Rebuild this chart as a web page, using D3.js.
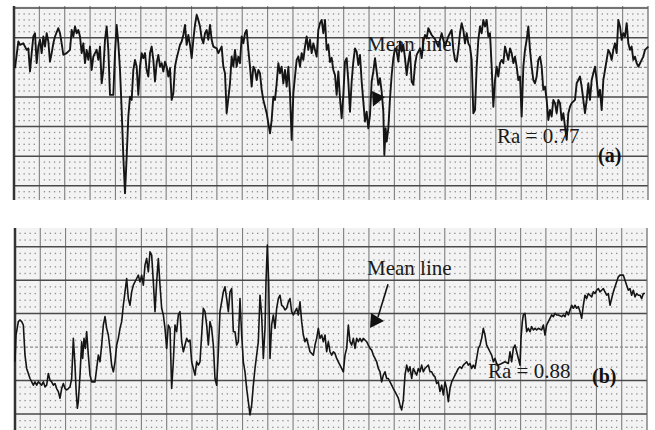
<!DOCTYPE html>
<html><head><meta charset="utf-8">
<script src="https://cdn.jsdelivr.net/npm/d3@7"></script>
<style>html,body{margin:0;padding:0;background:#fff;} svg{display:block;}</style>
</head><body><svg id="c" width="655" height="430"></svg>
<script>
// ---- DATA (profile traces: sample position, amplitude in grid divisions) ----
const topPos = [9,11,12,14,16,17,18,19,20,21,22,23,24,25,26,27,28,29,30,31,32,33,35,36,37,38,40,42,43,44,45,46,47,48,49,50,51,52,53,54,55,56,57,58,59,60,61,62,63,64,65,66,68,69,70,71,72,73,74,75,76,77,78,79,80,81,82,83,84,85,86,87,88,89,90,91,92,93,94,95,96,97,98,99,100,101,102,103,104,105,106,107,108,109,110,111,112,113,114,115,116,117,118,119,120,121,122,123,124,125,126,127,128,130,131,132,133,134,135,136,138,139,140,141,142,143,144,145,146,147,148,149,150,151,152,153,154,155,156,157,158,160,161,162,163,164,165,166,167,168,169,170,171,172,173,174,175,176,177,178,179,180,181,182,183,184,185,186,187,188,190,191,192,193,194,195,196,197,198,199,200,201,202,203,204,205,206,207,208,209,210,211,212,213,214,215,216,217,218,219,220,221,222,223,224,225,226,227,228,229,230,230.6,231.4,232,233,234,235,236,237,238,239,240,241,242,243,244,245,246,247,248,249,250,252,253,254,255,256,257,259,261,263,265,267,269,271,272,273,274,275,276,277,278,279,280,281,282,283,284,285,286,287,288,289,290,291,292,293,294,295,296,297,298,299,300,301,302,303,304,305,306,307,308,309,310,311,312,313,314,315,316,317,318,319,320,321,322,323,324,325,326,327,328,329,330,331,332,333,334,335,336,337,338,339,340,341,342,343,345,346,347,348,349,350,351,352,353,354,355,356,357,358,359,360,361,362,363,364,365,366,367,368,369,370,371,372,373,374,375,376,377,378,379,380,381,382,383,385,386,387,389];
const topVal = [0.97,1.87,1.76,1.81,1.59,1.64,0.86,1.48,2.04,2.15,1.14,1.70,1.93,1.48,2.04,1.70,2.15,1.87,1.19,1.48,1.81,2.04,2.32,2.15,1.81,1.42,1.48,1.59,2.26,2.04,2.38,2.15,2.26,2.04,1.48,1.81,1.14,1.59,1.25,1.70,0.91,1.36,1.48,1.59,1.25,1.70,0.46,0.91,1.93,2.38,1.59,0.07,0.07,1.48,2.43,1.81,0.91,-0.44,-2.02,-3.25,-2.02,-0.66,0.01,-0.10,0.91,1.25,1.02,0.07,1.02,1.48,1.31,1.48,0.91,0.69,1.48,1.70,1.25,0.52,1.14,1.42,1.02,1.14,0.86,1.19,1.02,0.69,0.97,-0.10,0.12,1.02,1.31,1.53,1.76,1.87,2.09,2.43,1.76,2.09,1.76,1.31,1.93,2.43,2.77,2.60,2.38,1.98,1.81,2.15,2.26,1.93,2.43,1.93,1.70,1.64,1.48,1.59,1.70,1.02,0.80,-0.55,0.46,1.36,1.02,1.59,1.02,1.36,1.14,2.04,1.81,2.15,2.26,1.59,1.02,0.35,1.02,0.91,0.57,0.91,0.80,0.24,-0.10,-0.55,-0.89,-1.23,-0.78,0.01,-0.10,0.46,1.14,0.80,1.02,0.46,0.91,0.35,1.02,0.12,-1.45,0.12,0.69,1.25,1.36,1.02,1.48,1.25,1.70,2.04,1.59,1.93,1.48,1.81,1.36,2.26,2.49,2.60,2.15,2.60,1.59,1.76,1.18,1.32,0.91,0.74,0.07,0.86,-0.05,-0.72,0.07,1.19,1.31,0.52,-0.50,0.52,1.19,1.64,1.53,1.08,1.42,0.52,-0.16,-0.83,-0.50,-1.06,-0.61,0.52,0.86,1.31,0.86,0.41,0.63,0.18,-0.50,-1.96,-1.06,-1.51,-1.06,-0.05,0.74,1.31,1.64,1.53,1.19,1.87,1.53,1.76,1.31,0.74,1.19,1.53,0.52,0.41,1.08,1.42,1.64,1.31,1.87,2.09,1.98,2.32,2.09,1.95,1.70,2.15,1.70,2.04,2.26,1.59,1.25,1.19,1.59,2.15,2.49,2.26,1.81,2.15,1.81,1.70,1.25,-0.55,-0.44,1.02,1.93,2.38,2.15,2.60,2.38,2.60,2.04,2.15,1.02,-0.33,0.57,1.02,0.69,1.14,1.25,1.14,1.70,1.48,1.25,1.64,1.48,1.14,1.36,1.02,0.57,0.69,-0.66,1.02,1.59,1.93,2.38,1.59,1.02,0.57,0.46,0.69,1.25,1.36,1.02,0.24,0.35,-0.10,-0.78,-0.44,-0.66,-0.10,-0.21,-0.55,-0.10,-0.21,-0.78,-0.55,-1.00,-1.45,-0.55,-0.33,-0.21,-0.10,0.46,0.57,0.69,0.35,-0.10,-0.55,-0.10,0.46,-0.10,0.57,0.80,1.02,0.57,0.01,0.24,-0.44,0.57,0.91,1.25,1.59,1.48,1.25,1.59,1.81,1.48,2.60,2.38,1.93,2.15,2.04,2.49,1.81,1.59,1.70,1.25,1.36,1.14,1.02,1.25,1.36,1.59,1.70];

const botPos = [9,9.6,11,12,13,14,15,16,18,20,21,22,23,24,25,26,27,28,29,30,31,32,33,34,35,36,37,38,39,40,41,42,43,44,45,45.6,46.4,47,48,48.6,49,49.6,50.4,51.2,52,53,54,55,57,58,59,60,61,62,63,64,65,66,67,68,69,70,71,72,73,74,75,76,77,78,79,80,82,83,84,85,86,87,88,89,90,91,92,93,94,95,96,97,98,99,100,101,102,103,104,105,106,107,108,109,110,111,112,113,114,115,116,117,118,119,120,121,122,123,124,125,126,127,128,129,130,131,132,133,134,135,136,137,138,139,140,141,142,143,144,145,146,147,148,149,150,151,152,153,154,155,156,157,158,159,159.6,160.4,161.2,162,163,164,165,166,167,168,169,170,171,172,173,174,175,176,177,178,179,180,181,182,183,184,185,186,188,189,190,191,192,193,194,195,196,197,198,199,200,201,202,203,204,206,207,208,209,210,211,212,213,214,215,216,217,218,219,220,221,222,223,224,225,226,227,228,229,230,231,232,233,234,235,236,237,238,239,240,241,242,243,244,245,246,247,248,249,250,251,252,253,254,255,256,257,258,259,260,261,262,263,264,265,266,267,268,269,270,271,272,273,274,275,276,277,278,279,280,281,282,283,284,285,286,287,288,289,290,291,292,293,294,295,296,297,298,299,301,303,305,306,307,308,309,310,311,312,312.6,313.4,314,315,316,317,318,319,320,321,322,323,325,326,327,328,329,330,331,332,333,334,335,337,338,339,340,341,342,343,344,345,346,347,348,349,350,351,352,353,354,355,356,357,358,359,360,361,362,363,364,365,366,367,368,369,370,371,372,373,374,375,376,377,378,379,380,381,382,383,384,385,386,387];
const botVal = [-0.44,0.36,0.76,0.81,0.76,0.66,-0.24,-0.64,-0.94,-1.14,-1.04,-1.14,-1.04,-1.09,-1.14,-1.04,-1.19,-1.14,-0.79,-0.99,-1.04,-1.14,-1.09,-1.24,-1.33,-1.53,-1.24,-1.09,-1.24,-1.28,-1.24,-1.19,-0.94,0.26,-0.54,-1.24,-1.83,-1.63,-0.84,-0.24,0.16,-0.34,0.26,-0.04,0.46,-0.24,-0.84,-1.04,-1.04,-0.64,-0.24,-0.44,0.06,0.66,0.91,0.56,0.36,-0.04,-0.54,-0.74,-0.44,0.06,0.26,0.56,0.76,1.25,1.65,2.05,1.45,1.25,1.65,1.85,2.05,2.15,1.95,2.15,1.85,2.45,2.65,2.25,2.85,2.75,1.95,1.06,1.95,2.65,1.85,1.16,0.96,0.56,-0.04,0.66,0.56,-1.24,-0.44,0.66,0.46,0.96,1.06,0.16,-0.14,0.06,0.26,0.16,0.21,-0.44,-0.64,-0.84,-0.44,-0.54,-0.44,0.36,1.16,1.06,0.66,0.06,0.76,0.56,0.06,-0.94,-1.14,-0.14,1.06,1.35,1.65,1.80,1.45,1.06,1.65,1.75,0.46,0.46,0.06,0.16,1.45,0.36,-0.44,-0.74,-1.24,-1.63,-2.03,-1.73,-1.14,-0.64,-0.24,0.16,1.55,0.96,-0.34,0.56,1.95,3.05,1.95,-0.34,0.66,0.96,0.56,1.16,1.45,1.55,1.25,1.21,1.11,1.16,1.35,1.45,1.06,0.96,1.06,1.16,0.96,1.35,0.76,0.36,0.16,0.26,0.06,-0.14,-0.24,0.06,0.26,0.56,0.26,0.36,0.16,0.36,-0.14,0.16,-0.14,-0.24,-0.14,-0.19,-0.34,-0.44,-0.54,-0.74,-0.24,-0.04,0.66,0.16,0.06,0.26,-0.04,0.26,0.16,0.26,0.16,0.26,0.21,0.16,0.06,-0.04,-0.09,-0.24,-0.34,-0.44,-0.64,-0.74,-1.04,-0.84,-0.74,-0.94,-0.94,-1.04,-1.14,-1.24,-1.33,-1.43,-1.53,-1.73,-1.88,-1.58,-0.84,-0.54,-0.74,-0.59,-0.94,-0.64,-0.74,-0.84,-0.64,-0.74,-0.54,-0.74,-0.64,-0.59,-0.54,-0.74,-0.74,-0.84,-0.89,-1.09,-1.04,-1.33,-1.14,-1.43,-1.04,-1.24,-1.63,-1.24,-1.04,-0.94,-0.84,-0.74,-0.64,-0.59,-0.64,-0.54,-0.49,-0.44,-0.54,-0.49,-0.64,-0.54,-0.64,-0.34,-0.04,0.06,0.26,0.56,0.36,0.06,-0.04,-0.14,-0.24,-0.44,-0.34,-0.49,-0.54,-0.49,-0.44,-0.49,-0.14,-0.44,-0.04,0.06,-0.14,-0.34,-0.54,0.26,0.76,0.96,1.01,0.46,0.56,0.46,0.61,0.51,0.56,0.51,0.56,0.51,0.66,0.36,0.66,0.76,0.86,0.96,0.91,1.01,0.96,0.96,0.91,0.96,0.91,1.06,0.96,1.11,1.25,1.16,1.25,1.16,1.21,1.06,0.86,1.25,1.55,1.45,1.60,1.55,1.50,1.65,1.60,1.70,1.75,1.65,1.70,1.75,1.65,1.55,1.60,1.25,1.45,1.65,1.80,1.95,2.10,2.15,2.15,2.15,2.00,1.85,1.70,1.75,1.55,1.70,1.50,1.60,1.55,1.55,1.45,1.60,1.60];

const meanLabel = "Mean line";
const raLabels = ["Ra = 0.77", "Ra = 0.88"];
const panelTags = ["(a)", "(b)"];

// ---- LAYOUT ----
const svg = d3.select("#c");
svg.append("rect").attr("width",655).attr("height",430).attr("fill","#fff");

const panels = [
  { left:14, right:648, top:6, bottom:200, posDomain:[8.4,388.8], valDomain:[-3.48,3.07], dashed:1,
    pos:topPos, val:topVal, ra:raLabels[0], tag:panelTags[0], sw:1.9,
    meanAt:[220.2,1.55], raAt:[298.2,-1.55], tagAt:[358.8,-2.2],
    arrowShaft:null, arrowHead:[[231,0],[223.2,0.2],[223.8,-0.32]] },
  { left:15, right:647, top:228, bottom:430, posDomain:[9,388.2], valDomain:[-2.48,3.56], dashed:0,
    pos:botPos, val:botVal, ra:raLabels[1], tag:panelTags[1], sw:1.6,
    meanAt:[220.2,2.15], raAt:[292.8,-0.93], tagAt:[355.2,-1.08],
    arrowShaft:[[232.8,1.88],[226.8,0.90]], arrowHead:[[222,0.57],[222.6,1.02],[230.4,0.78]] }
];

panels.forEach(p => {
  const g = svg.append("g");
  const x = d3.scaleLinear().domain(p.posDomain).range([p.left, p.right]);
  const y = d3.scaleLinear().domain(p.valDomain).range([p.bottom, p.top]);
  const gx = d3.scaleLinear().domain([0,25]).range([p.left, p.right]);

  g.append("rect").attr("x",p.left).attr("y",p.top).attr("width",p.right-p.left).attr("height",p.bottom-p.top).attr("fill","#f3f3f3");

  // dots
  const cols = d3.range(0, 125).filter(i => i % 5 !== 0).map(i => i/5);
  const rows = [];
  for (let k = Math.ceil(p.valDomain[0]*5); k <= Math.floor(p.valDomain[1]*5); k++) if (k % 5 !== 0) rows.push(k/5);
  const dots = [];
  cols.forEach(c => rows.forEach(r => dots.push([c, r])));
  g.append("g").selectAll("rect").data(dots).join("rect")
    .attr("x", d => gx(d[0]) - 0.65).attr("y", d => y(d[1]) - 0.65)
    .attr("width",1.3).attr("height",1.3).attr("fill","#8c8c8c");

  // vertical grid
  g.append("g").selectAll("line").data(d3.range(1,25)).join("line")
    .attr("x1", d=>gx(d)).attr("x2", d=>gx(d)).attr("y1",p.top).attr("y2",p.bottom)
    .attr("stroke","#7e7e7e").attr("stroke-width",1.1);
  // horizontal grid
  const hl = d3.range(Math.ceil(p.valDomain[0]), Math.floor(p.valDomain[1])+1);
  g.append("g").selectAll("line").data(hl).join("line")
    .attr("x1",p.left).attr("x2",p.right).attr("y1", d=>y(d)).attr("y2", d=>y(d))
    .attr("stroke", d => d===p.dashed ? "#8a8a8a" : "#4a4a4a")
    .attr("stroke-width", d => d===p.dashed ? 1.2 : 1.5)
    .attr("stroke-dasharray", d => d===p.dashed ? "3,2" : null);
  // borders
  g.append("line").attr("x1",p.left).attr("x2",p.left).attr("y1",p.top).attr("y2",p.bottom).attr("stroke","#333").attr("stroke-width",2.5);
  g.append("line").attr("x1",p.right).attr("x2",p.right).attr("y1",p.top).attr("y2",p.bottom).attr("stroke","#666").attr("stroke-width",1.2);

  // labels (under trace)
  const tf = "'Liberation Serif','Times New Roman',serif";
  g.append("text").attr("x",x(p.meanAt[0])).attr("y",y(p.meanAt[1])).attr("font-family",tf).attr("font-size",21).attr("fill","#1a1a1a").text(meanLabel);
  g.append("text").attr("x",x(p.raAt[0])).attr("y",y(p.raAt[1])).attr("font-family",tf).attr("font-size",21).attr("fill","#1a1a1a").text(p.ra);
  g.append("text").attr("x",x(p.tagAt[0])).attr("y",y(p.tagAt[1])).attr("font-family",tf).attr("font-size",20).attr("font-weight","bold").attr("fill","#111").text(p.tag);

  if (p.arrowShaft) {
    g.append("line").attr("x1",x(p.arrowShaft[0][0])).attr("y1",y(p.arrowShaft[0][1]))
      .attr("x2",x(p.arrowShaft[1][0])).attr("y2",y(p.arrowShaft[1][1])).attr("stroke","#111").attr("stroke-width",1.6);
  }
  g.append("path").attr("d", d3.line().x(d=>x(d[0])).y(d=>y(d[1]))(p.arrowHead) + "Z").attr("fill","#111");

  // trace
  const pts = p.pos.map((v,i)=>[v, p.val[i]]);
  g.append("path").attr("d", d3.line().x(d=>x(d[0])).y(d=>y(d[1]))(pts))
    .attr("fill","none").attr("stroke","#151515").attr("stroke-width",p.sw).attr("stroke-linejoin","round");
});
</script></body></html>
